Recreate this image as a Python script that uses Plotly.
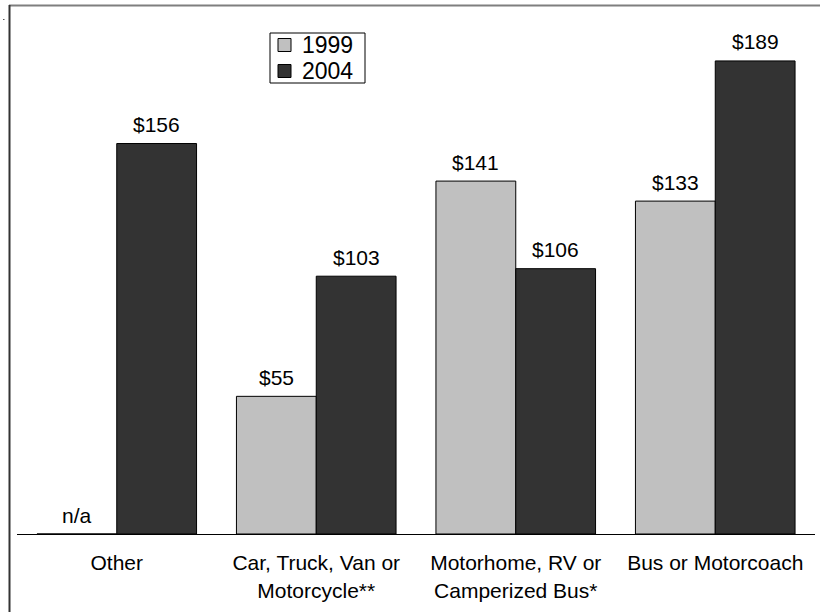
import plotly.graph_objects as go

categories = ["Other", "Car, Truck, Van or<br>Motorcycle**", "Motorhome, RV or<br>Camperized Bus*", "Bus or Motorcoach"]
series_names = ["1999", "2004"]
values_1999 = [None, 55, 141, 133]
values_2004 = [156, 103, 106, 189]
labels_1999 = ["n/a", "$55", "$141", "$133"]
labels_2004 = ["$156", "$103", "$106", "$189"]
colors = ["#C0C0C0", "#333333"]

W, H = 820, 612
L, R, T, B = 17, 5, 20, 78
PW, PH = W - L - R, H - T - B
SCALE = 2.503  # px per unit
YMAX = PH / SCALE
FONT = "Arial, Liberation Sans, sans-serif"

def px_x(p):
    return (p - L) / PW

def px_y(p):
    return (H - B - p) / PH

fig = go.Figure()
for name, vals, col in zip(series_names, [values_1999, values_2004], colors):
    fig.add_trace(go.Bar(
        x=categories, y=[v if v is not None else 0 for v in vals], name=name,
        marker=dict(color=col, line=dict(color="#000000", width=1)),
        showlegend=False, hoverinfo="skip",
    ))

annotations = []
for vals, labs, shift in [(values_1999, labels_1999, -40), (values_2004, labels_2004, 40)]:
    for c, v, t in zip(categories, vals, labs):
        annotations.append(dict(
            x=c, y=(v if v is not None else 0), xref="x", yref="y",
            text=t, showarrow=False, xshift=shift, yshift=19,
            yanchor="middle", xanchor="center",
            font=dict(family=FONT, size=21, color="#000000"),
        ))

# legend (drawn manually to match compact spacing)
shapes = []
lg_left, lg_top, lg_right, lg_bottom = 270, 33, 365, 83
shapes.append(dict(type="rect", xref="paper", yref="paper",
                   x0=px_x(lg_left), x1=px_x(lg_right), y0=px_y(lg_bottom), y1=px_y(lg_top),
                   line=dict(color="#000000", width=1), fillcolor="#FFFFFF", layer="above"))
row_centers = [45, 71]
for name, col, cy in zip(series_names, colors, row_centers):
    shapes.append(dict(type="rect", xref="paper", yref="paper",
                       x0=px_x(278), x1=px_x(291), y0=px_y(cy + 6.5), y1=px_y(cy - 6.5),
                       line=dict(color="#000000", width=1), fillcolor=col, layer="above"))
    annotations.append(dict(x=px_x(300), y=px_y(cy), xref="paper", yref="paper",
                            text=name, showarrow=False, xanchor="left", yanchor="middle",
                            font=dict(family=FONT, size=23, color="#000000")))

# outer frame (top and left edges) and tiny dot
shapes.append(dict(type="line", xref="paper", yref="paper",
                   x0=px_x(9), x1=px_x(820), y0=px_y(5.5), y1=px_y(5.5),
                   line=dict(color="#7F7F7F", width=2)))
shapes.append(dict(type="line", xref="paper", yref="paper",
                   x0=px_x(9.5), x1=px_x(9.5), y0=px_y(5), y1=px_y(612),
                   line=dict(color="#333333", width=2)))
shapes.append(dict(type="rect", xref="paper", yref="paper",
                   x0=px_x(3), x1=px_x(4.5), y0=px_y(20), y1=px_y(19),
                   line=dict(width=0), fillcolor="#555555"))

fig.update_layout(
    width=W, height=H,
    margin=dict(l=L, r=R, t=T, b=B, pad=0),
    paper_bgcolor="#FFFFFF", plot_bgcolor="#FFFFFF",
    barmode="group", bargap=0.2, bargroupgap=0,
    font=dict(family=FONT, size=21, color="#000000"),
    showlegend=False,
    annotations=annotations, shapes=shapes,
)
fig.update_xaxes(showline=True, linecolor="#000000", linewidth=1, ticks="",
                 showgrid=False, zeroline=False, ticklabelstandoff=10,
                 tickfont=dict(family=FONT, size=21, color="#000000"))
fig.update_yaxes(range=[0, YMAX], visible=False, showgrid=False, zeroline=False)

fig.write_html("out.html", config={"displayModeBar": False},
               post_script="document.body.style.margin='0';document.body.style.overflow='hidden';")
